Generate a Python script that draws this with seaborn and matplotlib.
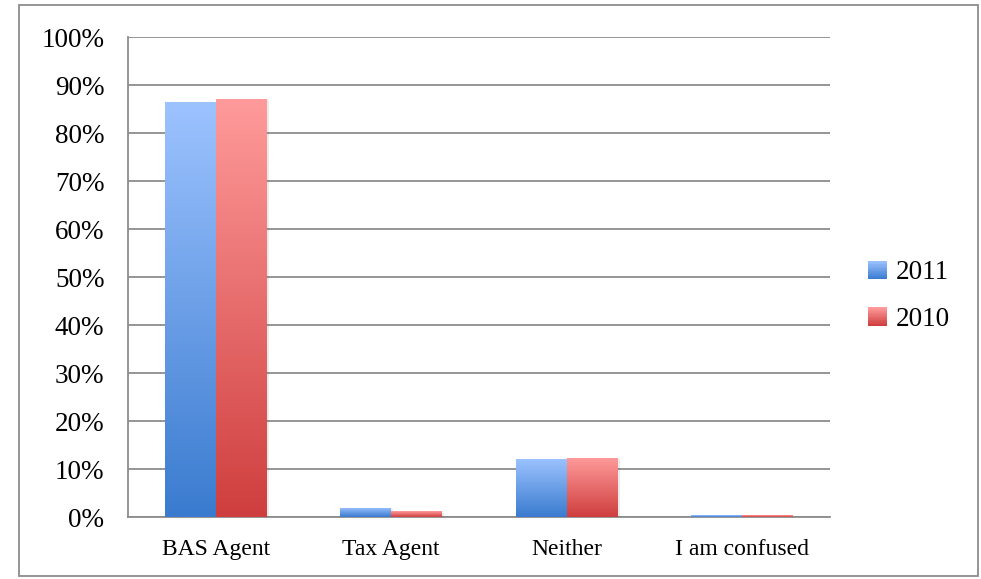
import matplotlib
matplotlib.use("Agg")
import matplotlib.pyplot as plt
import numpy as np
import pandas as pd
import seaborn as sns
from matplotlib.colors import LinearSegmentedColormap, to_rgb
from matplotlib.legend_handler import HandlerBase
from matplotlib.patches import Rectangle, Patch

categories = ["BAS Agent", "Tax Agent", "Neither", "I am confused"]
years = ["2011", "2010"]
values_2011 = [86.4, 1.9, 12.1, 0.4]
values_2010 = [87.1, 1.2, 12.4, 0.4]

# gradient ends, top -> bottom
grad = {
    "2011": ("#9dc3ff", "#3a7bcf"),
    "2010": ("#ff9b9b", "#cf3e3e"),
}


class GradientHandler(HandlerBase):
    """Legend square with a vertical gradient."""
    def __init__(self, top, bottom, n=24):
        super().__init__()
        self.top, self.bottom, self.n = np.array(to_rgb(top)), np.array(to_rgb(bottom)), n

    def create_artists(self, legend, orig_handle, xdescent, ydescent,
                       width, height, fontsize, trans):
        arts = []
        h = height / self.n
        for i in range(self.n):
            t = i / (self.n - 1)
            c = self.bottom * (1 - t) + self.top * t
            arts.append(Rectangle((-xdescent, -ydescent + i * h), width, h * 1.05,
                                  facecolor=c, edgecolor="none", transform=trans))
        return arts


df = pd.DataFrame({
    "category": categories * 2,
    "year": [years[0]] * 4 + [years[1]] * 4,
    "value": values_2011 + values_2010,
})

sns.set_style("white")
plt.rcParams["font.family"] = ["Liberation Serif", "DejaVu Serif"]
plt.rcParams["text.color"] = "black"
plt.rcParams["xtick.labelcolor"] = "black"
plt.rcParams["ytick.labelcolor"] = "black"

fig = plt.figure(figsize=(9.81, 5.79), dpi=100)
ax = fig.add_axes([0.1305, 0.107, 0.7155, 0.829])

sns.barplot(data=df, x="category", y="value", hue="year", hue_order=years,
            palette=[grad[y][1] for y in years], width=0.58, gap=0,
            saturation=1, ax=ax, legend=False, zorder=3)

# paint bars with vertical gradients
for cont, yr in zip(ax.containers, years):
    cmap = LinearSegmentedColormap.from_list(yr, [grad[yr][1], grad[yr][0]])
    for bar in cont:
        x0, y0 = bar.get_x(), bar.get_y()
        w, h = bar.get_width(), bar.get_height()
        bar.set_facecolor("none")
        bar.set_edgecolor("none")
        img = ax.imshow(np.linspace(0, 1, 256).reshape(-1, 1), cmap=cmap,
                        origin="lower", aspect="auto",
                        extent=[x0, x0 + w, y0, y0 + h], zorder=4)
        img.set_clip_path(bar)
        # faint shadow to the right/below
        ax.add_patch(Rectangle((x0 + 0.012, y0 - 0.3), w, h, facecolor="black",
                               alpha=0.08, edgecolor="none", zorder=3.5))

ax.set_xlim(-0.5, 3.5)
ax.set_ylim(0, 100)
ax.set_yticks(np.arange(0, 101, 10))
ax.set_yticklabels([f"{v}%" for v in range(0, 101, 10)], fontsize=19.5)
ax.yaxis.grid(True, color="#8c8c8c", linewidth=1.3, zorder=0)
ax.set_axisbelow(True)
ax.set_xlabel("")
ax.set_ylabel("")

ax.set_xticks(range(4))
ax.set_xticklabels(categories, fontsize=17)
ax.set_xticks(np.arange(-0.5, 4, 1), minor=True)
ax.tick_params(axis="x", which="major", length=0, pad=16)
ax.tick_params(axis="x", which="minor", length=8, width=1.3, color="#8c8c8c")
ax.tick_params(axis="y", length=8, width=1.3, color="#8c8c8c", pad=9)

for side in ["top", "right"]:
    ax.spines[side].set_visible(False)
for side in ["left", "bottom"]:
    ax.spines[side].set_color("#8c8c8c")
    ax.spines[side].set_linewidth(1.3)

handles = [Patch(label=y) for y in years]
ax.legend(handles=handles, labels=years, loc="center left",
          bbox_to_anchor=(1.02, 0.46), frameon=False, fontsize=19.5,
          handlelength=0.68, handleheight=0.68, handletextpad=0.35,
          labelspacing=0.8,
          handler_map={h: GradientHandler(*grad[y]) for h, y in zip(handles, years)})

# outer chart border
fig.patches.append(Rectangle((0.019, 0.006), 0.978, 0.986, transform=fig.transFigure,
                             fill=False, edgecolor="#8c8c8c", linewidth=1.3))

fig.savefig("out.png", dpi=100)
